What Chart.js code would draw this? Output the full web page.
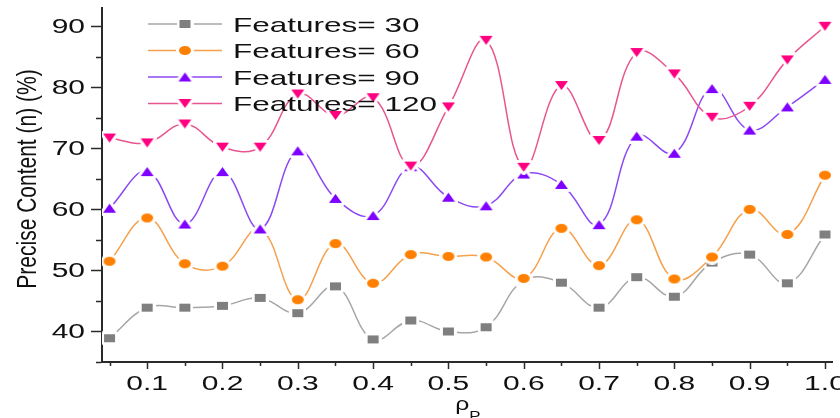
<!DOCTYPE html>
<html>
<head>
<meta charset="utf-8">
<script src="https://cdn.jsdelivr.net/npm/chart.js@4.4.1/dist/chart.umd.min.js"></script>
<style>
  html, body { margin: 0; padding: 0; background: #ffffff; }
  #wrap { width: 840px; height: 418px; position: relative; }
</style>
</head>
<body>
<div id="wrap"><canvas id="c"></canvas></div>
<script>
// ρp sampling points
const rhoValues = [0.05, 0.10, 0.15, 0.20, 0.25, 0.30, 0.35, 0.40, 0.45, 0.50,
                   0.55, 0.60, 0.65, 0.70, 0.75, 0.80, 0.85, 0.90, 0.95, 1.00];

// Precise content (%) per feature count
const features30  = [38.9, 43.9, 43.9, 44.2, 45.5, 43.0, 47.4, 38.7, 41.8, 40.0,
                     40.7, 48.4, 48.0, 43.9, 48.9, 45.7, 51.3, 52.6, 47.9, 55.9];
const features60  = [51.5, 58.6, 51.1, 50.7, 56.8, 45.2, 54.4, 47.9, 52.6, 52.3,
                     52.2, 48.7, 56.9, 50.8, 58.3, 48.6, 52.2, 60.0, 55.9, 65.6];
const features90  = [60.2, 66.2, 57.6, 66.2, 56.8, 69.6, 61.8, 59.0, 67.0, 62.0,
                     60.6, 65.8, 64.1, 57.5, 72.0, 69.2, 79.8, 73.0, 76.8, 81.3];
const features120 = [71.7, 70.9, 74.0, 70.2, 70.2, 78.9, 75.4, 78.3, 67.1, 76.8,
                     87.7, 66.9, 80.3, 71.3, 85.7, 82.2, 75.1, 76.9, 84.5, 90.0];

const seriesNames = ['Features= 30', 'Features= 60', 'Features= 90', 'Features= 120'];

// Axis ticks: labelled majors and unlabelled minors
const xMajorTicks = [0.1, 0.2, 0.3, 0.4, 0.5, 0.6, 0.7, 0.8, 0.9, 1.0];
const xMinorTicks = [0.05, 0.15, 0.25, 0.35, 0.45, 0.55, 0.65, 0.75, 0.85, 0.95];
const yMajorTicks = [40, 50, 60, 70, 80, 90];
const yMinorTicks = [35, 45, 55, 65, 75, 85];

const FONT = '"Liberation Sans", Arial, sans-serif';
const TEXT_SX = 1.5; // wide lettering

// Marker sprites with a white halo so the line breaks around each symbol
function makeMarker(shape, w, h, color, halo) {
  const c = document.createElement('canvas');
  c.width = w + 2 * halo;
  c.height = h + 2 * halo;
  const g = c.getContext('2d');
  const x0 = halo, y0 = halo;
  const path = () => {
    g.beginPath();
    if (shape === 'rect') {
      g.rect(x0, y0, w, h);
    } else if (shape === 'ellipse') {
      g.ellipse(x0 + w / 2, y0 + h / 2, w / 2, h / 2, 0, 0, Math.PI * 2);
    } else if (shape === 'up') {
      g.moveTo(x0 + w / 2, y0);
      g.lineTo(x0 + w, y0 + h);
      g.lineTo(x0, y0 + h);
      g.closePath();
    } else {
      g.moveTo(x0, y0);
      g.lineTo(x0 + w, y0);
      g.lineTo(x0 + w / 2, y0 + h);
      g.closePath();
    }
  };
  path();
  g.strokeStyle = '#ffffff';
  g.lineWidth = halo * 2;
  g.lineJoin = 'round';
  g.stroke();
  g.fillStyle = '#ffffff';
  g.fill();
  path();
  g.fillStyle = color;
  g.fill();
  return c;
}

const styles = [
  { line: '#a6a6a6', marker: makeMarker('rect', 11, 8, '#7f7f7f', 3) },
  { line: '#f4a04c', marker: makeMarker('ellipse', 12, 9, '#ff8000', 3) },
  { line: '#8c48f2', marker: makeMarker('up', 13, 9, '#8000ff', 3) },
  { line: '#e8558f', marker: makeMarker('down', 13, 9, '#ff0080', 3) }
];

const seriesValues = [features30, features60, features90, features120];

const datasets = seriesValues.map((vals, i) => ({
  label: seriesNames[i],
  data: rhoValues.map((x, j) => ({ x: x, y: vals[j] })),
  borderColor: styles[i].line,
  borderWidth: 1.5,
  tension: 0.4,
  pointStyle: styles[i].marker,
  pointRadius: 6,
  pointHoverRadius: 6,
  order: 3 - i,
  fill: false
}));

function wideText(ctx, text, x, y, align, sx) {
  ctx.save();
  ctx.translate(x, y);
  ctx.scale(sx, 1);
  ctx.textAlign = align;
  ctx.textBaseline = 'alphabetic';
  ctx.fillText(text, 0, 0);
  ctx.restore();
}

// Ticks, tick labels, axis titles and the in-plot legend
const decorations = {
  id: 'decorations',
  afterDraw(chart) {
    const ctx = chart.ctx;
    const xs = chart.scales.x, ys = chart.scales.y;
    const area = chart.chartArea;
    ctx.save();
    ctx.strokeStyle = '#2a2a2a';
    ctx.lineWidth = 1.5;
    ctx.fillStyle = '#111111';

    // x ticks
    const xb = area.bottom + 1;
    xMajorTicks.forEach(v => {
      const px = Math.round(xs.getPixelForValue(v)) + 0.5;
      ctx.beginPath(); ctx.moveTo(px, xb); ctx.lineTo(px, xb + 6); ctx.stroke();
    });
    xMinorTicks.forEach(v => {
      const px = Math.round(xs.getPixelForValue(v)) + 0.5;
      ctx.beginPath(); ctx.moveTo(px, xb); ctx.lineTo(px, xb + 3); ctx.stroke();
    });
    // y ticks
    const yl = area.left - 1;
    yMajorTicks.forEach(v => {
      const py = Math.round(ys.getPixelForValue(v)) + 0.5;
      ctx.beginPath(); ctx.moveTo(yl, py); ctx.lineTo(yl - 10, py); ctx.stroke();
    });
    yMinorTicks.forEach(v => {
      const py = Math.round(ys.getPixelForValue(v)) + 0.5;
      ctx.beginPath(); ctx.moveTo(yl, py); ctx.lineTo(yl - 5, py); ctx.stroke();
    });

    // tick labels
    ctx.font = '20px ' + FONT;
    xMajorTicks.forEach(v => {
      wideText(ctx, v.toFixed(1), xs.getPixelForValue(v), area.bottom + 28, 'center', TEXT_SX);
    });
    yMajorTicks.forEach(v => {
      wideText(ctx, String(v), area.left - 17, ys.getPixelForValue(v) + 7, 'right', TEXT_SX);
    });

    // x title: ρ with subscript P
    const cx = (area.left + area.right) / 2;
    ctx.font = '19px ' + FONT;
    wideText(ctx, 'ρ', cx - 5, area.bottom + 48, 'center', 1.3);
    ctx.font = '13px ' + FONT;
    wideText(ctx, 'P', cx + 2, area.bottom + 58, 'left', 1.3);

    // y title
    ctx.save();
    ctx.translate(28, 179);
    ctx.rotate(-Math.PI / 2);
    ctx.scale(1, 1.3);
    ctx.font = '21px ' + FONT;
    ctx.textAlign = 'center';
    ctx.textBaseline = 'middle';
    ctx.fillText('Precise Content (n) (%)', 0, 0);
    ctx.restore();

    // legend
    const rows = [24, 50.5, 77, 103.5];
    rows.forEach((ry, i) => {
      ctx.strokeStyle = styles[i].line;
      ctx.lineWidth = 1.5;
      ctx.beginPath(); ctx.moveTo(148, ry); ctx.lineTo(222, ry); ctx.stroke();
      const m = styles[i].marker;
      ctx.drawImage(m, 185 - m.width / 2, ry - m.height / 2);
      ctx.fillStyle = '#111111';
      ctx.font = '21px ' + FONT;
      wideText(ctx, seriesNames[i], 233, ry + 7.5, 'left', TEXT_SX);
    });
    ctx.restore();
  }
};

new Chart(document.getElementById('c'), {
  type: 'line',
  data: { datasets: datasets },
  options: {
    responsive: true,
    maintainAspectRatio: false,
    animation: false,
    layout: { padding: { left: 0, top: 8, right: 6, bottom: 0 } },
    plugins: { legend: { display: false }, tooltip: { enabled: false } },
    scales: {
      x: {
        type: 'linear',
        min: 0.04,
        max: 1.01,
        grid: { drawOnChartArea: false, drawTicks: false },
        border: { display: true, color: '#2a2a2a', width: 2 },
        ticks: { display: false },
        afterFit(s) { s.height = 56; }
      },
      y: {
        type: 'linear',
        min: 35,
        max: 93,
        grid: { drawOnChartArea: false, drawTicks: false },
        border: { display: true, color: '#2a2a2a', width: 2 },
        ticks: { display: false },
        afterFit(s) { s.width = 102; }
      }
    }
  },
  plugins: [decorations]
});
</script>
</body>
</html>
